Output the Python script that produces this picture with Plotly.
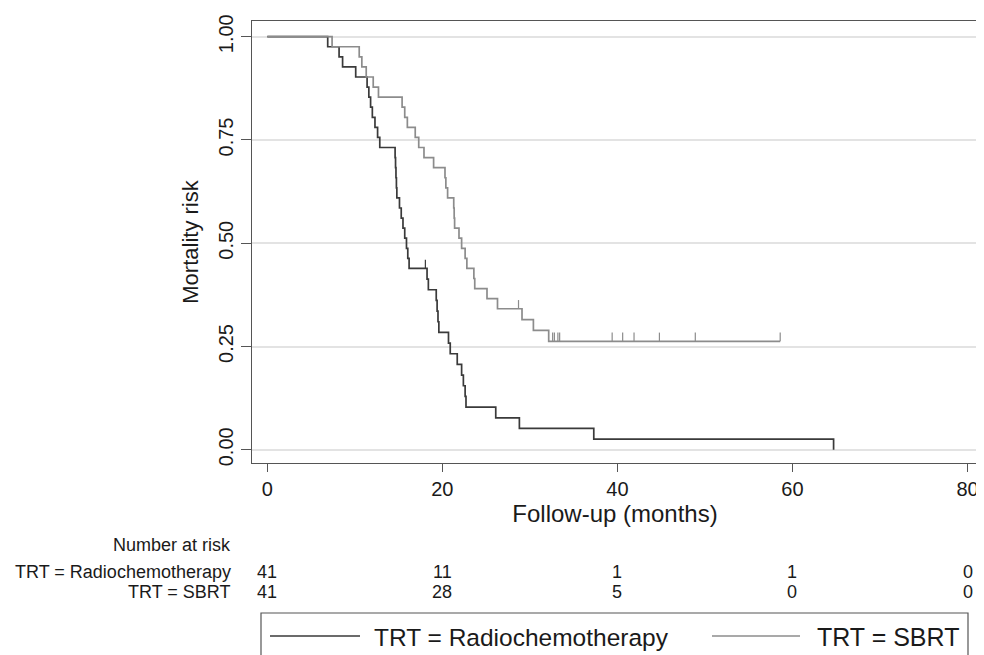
import plotly.graph_objects as go

# ---------------- data ----------------
radio_death_times = [6.9, 8.2, 8.6, 10.1,
                     11.4, 11.6, 11.8, 12.0, 12.3, 12.6, 12.85,
                     14.6, 14.65, 14.7, 14.75, 14.8, 15.1, 15.3, 15.5, 15.7, 15.9, 16.05, 16.2,
                     18.25, 18.4, 19.3, 19.4, 19.5, 19.6,
                     20.7, 20.9, 21.7, 22.2, 22.4, 22.6, 22.7,
                     26.1, 28.8, 37.3, 64.7]
radio_censor_times = [18.06]

sbrt_death_times = [7.4, 10.5, 10.8, 11.3, 12.1, 12.7, 15.4, 15.7, 16.0, 16.9, 17.3, 17.9, 19.0,
                    20.3, 20.4, 20.6, 21.3, 21.35, 21.4, 21.9, 22.2, 22.6, 22.8, 23.6, 23.7, 25.1, 26.3,
                    29.1, 30.4, 32.15]
sbrt_censor_times = [28.7, 32.6, 32.8, 33.2, 33.4, 39.4, 40.6, 41.9, 44.8, 48.9, 58.6]

group_names = ["TRT = Radiochemotherapy", "TRT = SBRT"]
risk_times = [0, 20, 40, 60, 80]
radio_at_risk = [41, 11, 1, 1, 0]
sbrt_at_risk = [41, 28, 5, 0, 0]
x_ticks = [0, 20, 40, 60, 80]
y_ticks = [0.0, 0.25, 0.50, 0.75, 1.00]

# ---------------- Kaplan-Meier computation ----------------
def km(deaths, censors):
    events = sorted([(t, 1) for t in deaths] + [(t, 0) for t in censors])
    at_risk = len(events)
    s = 1.0
    xs, ys, cx, cy = [0.0], [1.0], [], []
    for t, d in events:
        if d:
            s *= (at_risk - 1) / at_risk
            xs.append(t)
            ys.append(s)
        else:
            cx.append(t)
            cy.append(s)
        at_risk -= 1
    last = events[-1][0]
    if xs[-1] < last:
        xs.append(last)
        ys.append(s)
    return xs, ys, cx, cy

DARK = "#3a3a3a"
LIGHT = "#8c8c8c"
FONT = "Liberation Sans, Arial, sans-serif"

# page offset of the figure (browser body margin)
OFF = 8
W, H = 984 - OFF, 655 - OFF
L, R, T = 252 - OFF, 6, 21 - OFF
PH = 442
B = H - T - PH
PW = W - L - R


def px(x):
    return (x - OFF - L) / PW


def py(y):
    return (T + PH - (y - OFF)) / PH


fig = go.Figure()
for (deaths, censors, color) in [(radio_death_times, radio_censor_times, DARK),
                                 (sbrt_death_times, sbrt_censor_times, LIGHT)]:
    xs, ys, cx, cy = km(deaths, censors)
    fig.add_trace(go.Scatter(x=xs, y=ys, mode="lines", line=dict(color=color, width=1.7, shape="hv"),
                             showlegend=False, hoverinfo="skip"))
    fig.add_trace(go.Scatter(x=cx, y=cy, mode="markers",
                             marker=dict(size=1, color="rgba(0,0,0,0)"),
                             error_y=dict(type="data", symmetric=False, array=[0.021] * len(cx),
                                          arrayminus=[0] * len(cx), width=0, thickness=1.2, color=color),
                             showlegend=False, hoverinfo="skip"))

fig.update_layout(
    width=W, height=H,
    margin=dict(l=L, r=R, t=T, b=B),
    paper_bgcolor="white", plot_bgcolor="white",
    font=dict(family=FONT, color="#1a1a1a", size=18),
    showlegend=False,
)
fig.update_xaxes(range=[-1.75, 81.2], tickvals=x_ticks, ticks="outside", ticklen=8, tickcolor="#555",
                 showgrid=False, zeroline=False, showline=True, linecolor="#555", linewidth=1.2, mirror=True,
                 tickfont=dict(size=20),
                 title=dict(text="Follow-up (months)", font=dict(size=24), standoff=3))
fig.update_yaxes(range=[-0.032, 1.038], tickvals=y_ticks, tickformat=".2f", tickangle=-90,
                 ticks="outside", ticklen=10, tickcolor="#555",
                 showgrid=True, gridcolor="#e3e3e3", gridwidth=1.5, zeroline=False,
                 showline=True, linecolor="#555", linewidth=1.2, mirror=True,
                 tickfont=dict(size=20),
                 title=dict(text="Mortality risk", font=dict(size=22), standoff=10))

annotations = []
annotations.append(dict(text="Number at risk", x=px(233), y=py(545), xref="paper", yref="paper",
                        xanchor="right", yanchor="middle", showarrow=False, font=dict(size=18)))
for name, counts, ypix in [(group_names[0], radio_at_risk, 572), (group_names[1], sbrt_at_risk, 592)]:
    annotations.append(dict(text=name, x=px(233), y=py(ypix), xref="paper", yref="paper",
                            xanchor="right", yanchor="middle", showarrow=False, font=dict(size=18)))
    for t, c in zip(risk_times, counts):
        annotations.append(dict(text=str(c), x=t, y=py(ypix), xref="x", yref="paper",
                                xanchor="center", yanchor="middle", showarrow=False, font=dict(size=18)))

# legend (drawn as a boxed key below the risk table)
shapes = [dict(type="rect", xref="paper", yref="paper", x0=px(261), x1=px(968), y0=py(690), y1=py(613),
               line=dict(color="#555", width=1.2), fillcolor="white", layer="above")]
shapes.append(dict(type="line", xref="paper", yref="paper", x0=px(270), x1=px(360), y0=py(636), y1=py(636),
                   line=dict(color=DARK, width=1.6)))
shapes.append(dict(type="line", xref="paper", yref="paper", x0=px(712), x1=px(800), y0=py(636), y1=py(636),
                   line=dict(color=LIGHT, width=1.6)))
annotations.append(dict(text=group_names[0], x=px(372), y=py(637), xref="paper", yref="paper",
                        xanchor="left", yanchor="middle", showarrow=False, font=dict(size=24.5)))
annotations.append(dict(text=group_names[1], x=px(815), y=py(637), xref="paper", yref="paper",
                        xanchor="left", yanchor="middle", showarrow=False, font=dict(size=25)))

fig.update_layout(annotations=annotations, shapes=shapes)
fig.write_html("out.html")
